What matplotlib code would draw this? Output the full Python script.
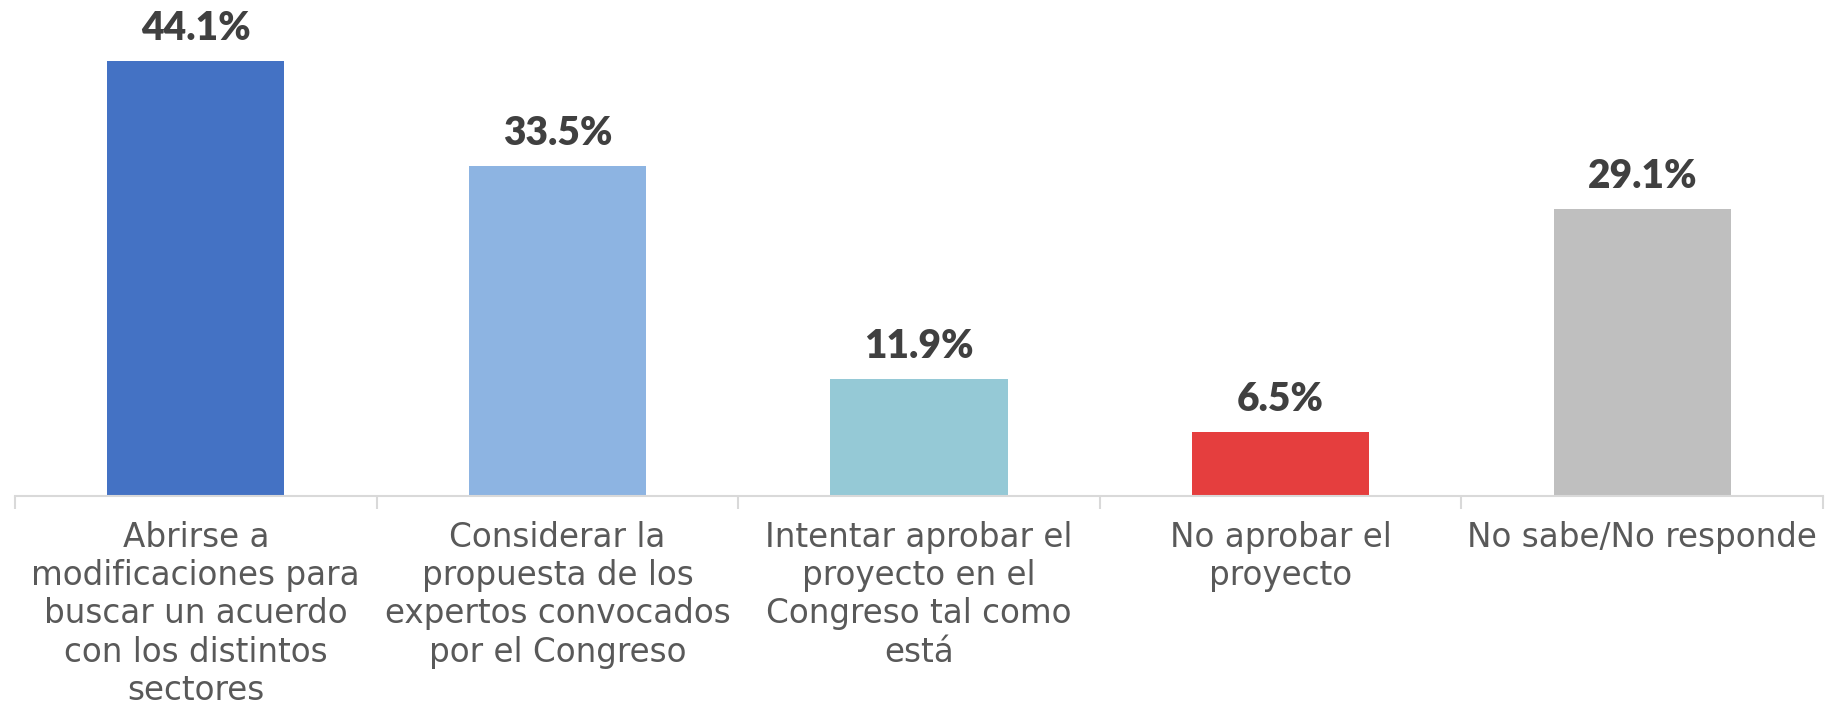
import matplotlib.pyplot as plt

# survey answers and shares (%)
categories = [
    "Abrirse a\nmodificaciones para\nbuscar un acuerdo\ncon los distintos\nsectores",
    "Considerar la\npropuesta de los\nexpertos convocados\npor el Congreso",
    "Intentar aprobar el\nproyecto en el\nCongreso tal como\nestá",
    "No aprobar el\nproyecto",
    "No sabe/No responde",
]
values = [44.1, 33.5, 11.9, 6.5, 29.1]
colors = ["#4472C4", "#8DB4E2", "#95C9D6", "#E53E3E", "#BFBFBF"]

fig = plt.figure(figsize=(18.27, 7.06), dpi=100)
ax = fig.add_axes([15 / 1827, 210 / 706, 1808 / 1827, 496 / 706])

x = list(range(len(values)))
bars = ax.bar(x, values, width=0.49, color=colors)

# value labels above the bars
for xi, v in zip(x, values):
    ax.annotate(f"{v:.1f}%", (xi, v), xytext=(0, 15), textcoords="offset points",
                ha="center", va="baseline", fontsize=28, fontweight="heavy",
                family="Lato", color="#404040")

ax.set_xlim(-0.5, len(values) - 0.5)
ax.set_ylim(0, 50.3)

ax.set_xticks(x)
ax.set_xticklabels(categories, fontsize=23.5, color="#595959", linespacing=1.2,
                   va="top")
ax.tick_params(axis="x", which="major", length=0, pad=18)
ax.set_xticks([i - 0.5 for i in range(len(values) + 1)], minor=True)
ax.tick_params(axis="x", which="minor", length=9, width=1.5, color="#D9D9D9")
ax.set_yticks([])

for s in ["top", "right", "left"]:
    ax.spines[s].set_visible(False)
ax.spines["bottom"].set_color("#D9D9D9")
ax.spines["bottom"].set_linewidth(1.5)

fig.savefig("out.png", dpi=100)
